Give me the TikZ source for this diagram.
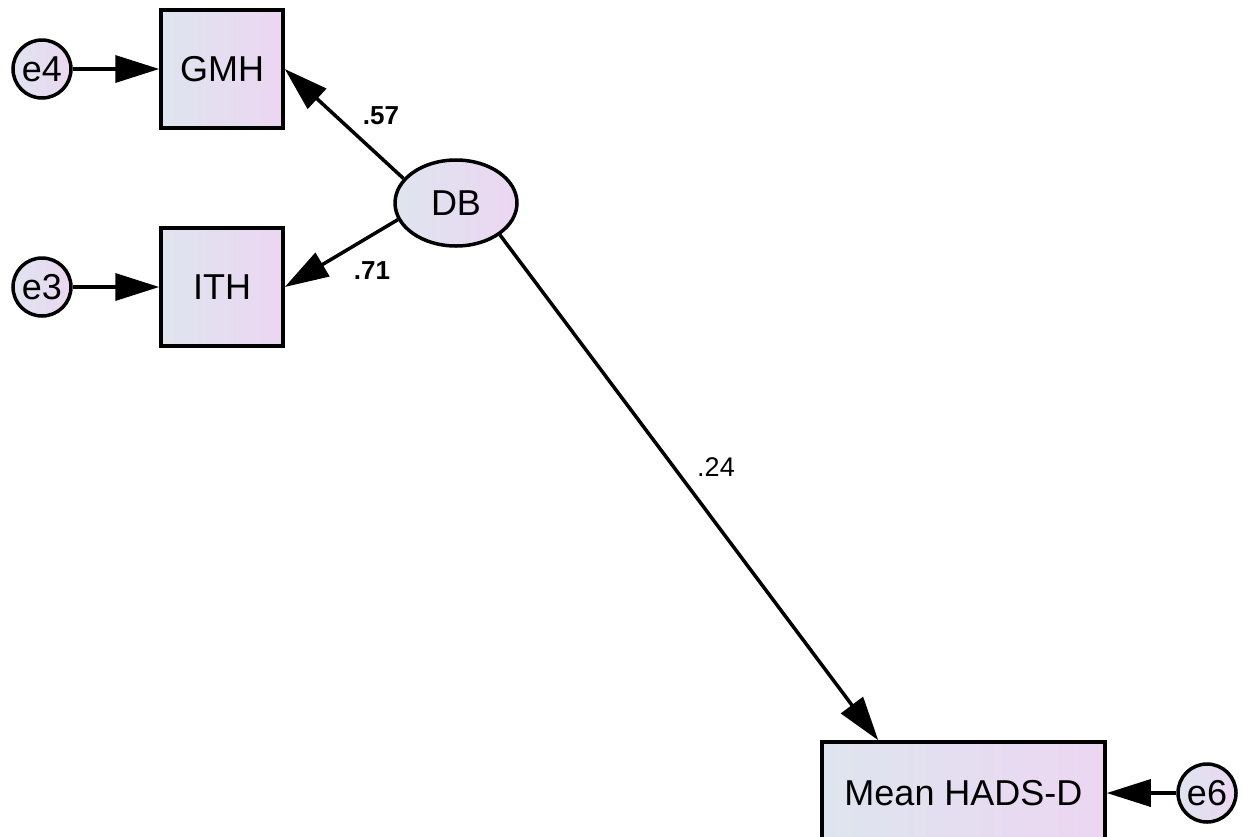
\documentclass[tikz,border=0pt]{standalone}
\usepackage{fontspec}
\setmainfont{Liberation Sans}
\usetikzlibrary{arrows.meta,calc,shapes.geometric}

\definecolor{fillL}{RGB}{222,229,238}
\definecolor{fillR}{RGB}{236,214,242}

\tikzset{
  shaded/.style={left color=fillL, right color=fillR, draw=black, line width=3.5pt},
  observed/.style={shaded, rectangle, inner sep=0pt,
    font=\fontsize{36}{42}\selectfont},
  latent/.style={shaded, ellipse, inner sep=0pt, minimum width=122pt, minimum height=86pt,
    font=\fontsize{36}{42}\selectfont},
  errterm/.style={shaded, circle, inner sep=0pt, minimum size=58pt,
    font=\fontsize{36}{42}\selectfont},
  arr/.style={line width=3.5pt, -{Triangle[length=44pt,width=27pt]}},
  coef/.style={font=\bfseries\fontsize{26}{30}\selectfont},
  coefplain/.style={font=\fontsize{27}{30}\selectfont},
}

\begin{document}
\begin{tikzpicture}[x=1pt,y=-1pt]
  \useasboundingbox (0,0) rectangle (1247,836);
  \clip (0,0) rectangle (1247,836);
  \fill[white] (0,0) rectangle (1247,836);

  % indicators and outcome
  \node[observed, minimum width=122pt, minimum height=118pt] (GMH) at (222,69) {GMH};
  \node[observed, minimum width=122pt, minimum height=118pt] (ITH) at (222,287) {ITH};
  \node[observed, minimum width=283pt, minimum height=102pt] (HADS) at (963.5,793) {Mean HADS-D};

  % latent factor
  \node[latent] (DB) at (456,203) {DB};

  % error terms
  \node[errterm] (e4) at (42,69) {e4};
  \node[errterm] (e3) at (42,287) {e3};
  \node[errterm] (e6) at (1207,793) {e6};

  \coordinate (hadsin) at ($(HADS.north west)+(58,0)$);

  % paths
  \draw[arr] (e4) -- (GMH);
  \draw[arr] (e3) -- (ITH);
  \draw[arr] (e6) -- (HADS);
  \draw[arr] (DB.155) -- (GMH.east);
  \draw[arr] (DB.196) -- (ITH.east);
  \draw[arr] (DB.-36) -- (hadsin);

  % coefficients
  \node[coef] (c57) at (381,116) {.57};
  \node[coef] (c71) at (372,271) {.71};
  \node[coefplain] (c24) at (716,467) {.24};
\end{tikzpicture}
\end{document}
